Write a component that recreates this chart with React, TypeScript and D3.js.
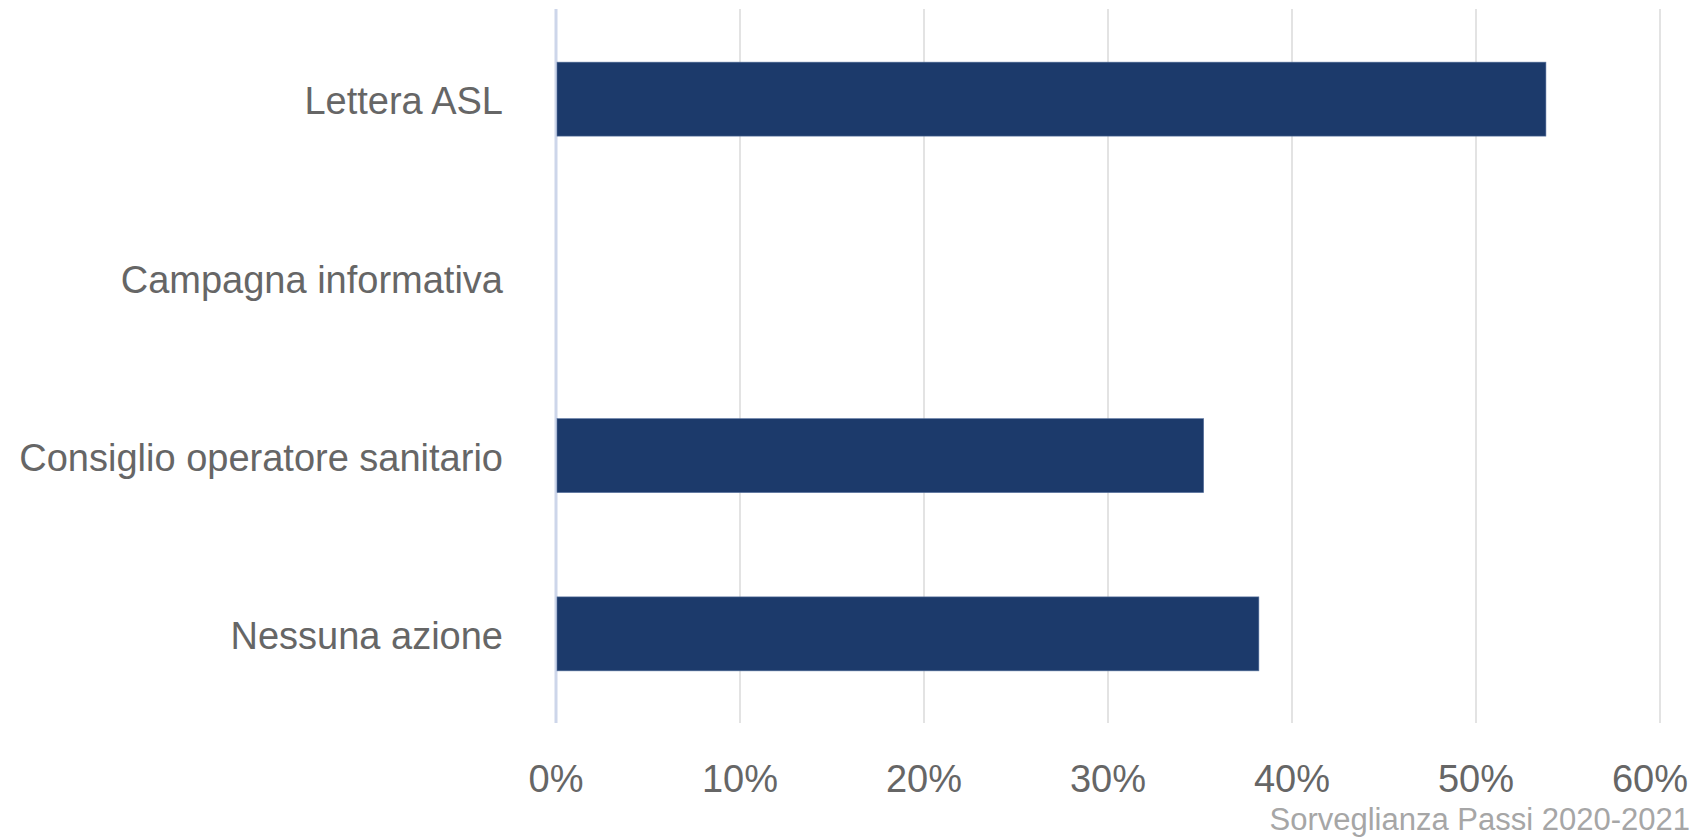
import React from "react";
import * as d3 from "d3";

const categories = ["Lettera ASL", "Campagna informativa", "Consiglio operatore sanitario", "Nessuna azione"];
const values = [53.8, 0, 35.2, 38.2];
const xTicks = [0, 10, 20, 30, 40, 50, 60];
const sourceText = "Sorveglianza Passi 2020-2021";

const W = 1699;
const H = 837;
const FONT = "'Liberation Sans', Arial, Helvetica, sans-serif";

export default function App() {
  const x = d3.scaleLinear().domain([0, 60]).range([556, 1660]);
  const y = d3.scaleBand<string>().domain(categories).range([10, 723]).paddingInner(0.585).paddingOuter(0.2925);
  const fmt = (t: number) => `${t}%`;
  return (
    <svg width={W} height={H} style={{ position: "absolute", left: 0, top: 0, background: "#fff" }} fontFamily={FONT}>
      {xTicks.map((t) => (
        <line key={"g" + t} x1={x(t)} x2={x(t)} y1={9} y2={723} stroke={t === 0 ? "#cdd6ea" : "#e3e3e3"} strokeWidth={t === 0 ? 3 : 2} />
      ))}
      {categories.map((c, i) => (
        values[i] > 0 ? (
          <rect key={"b" + c} x={x(0) + 1} y={y(c)!} width={x(values[i]) - x(0) - 1} height={y.bandwidth()} fill="#1c3a6b" stroke="#5a74a0" strokeWidth={0.6} />
        ) : null
      ))}
      {categories.map((c) => (
        <text key={"l" + c} x={503} y={y(c)! + y.bandwidth() / 2} dy="0.4em" textAnchor="end" fontSize={38} fill="#666666">
          {c}
        </text>
      ))}
      {xTicks.map((t, i) => {
        const last = i === xTicks.length - 1;
        return (
          <text key={"t" + t} x={last ? 1688 : x(t)} y={792} textAnchor={last ? "end" : "middle"} fontSize={38} fill="#666666">
            {fmt(t)}
          </text>
        );
      })}
      <text x={1690} y={830} textAnchor="end" fontSize={31} fill="#a6a6a6">
        {sourceText}
      </text>
    </svg>
  );
}
